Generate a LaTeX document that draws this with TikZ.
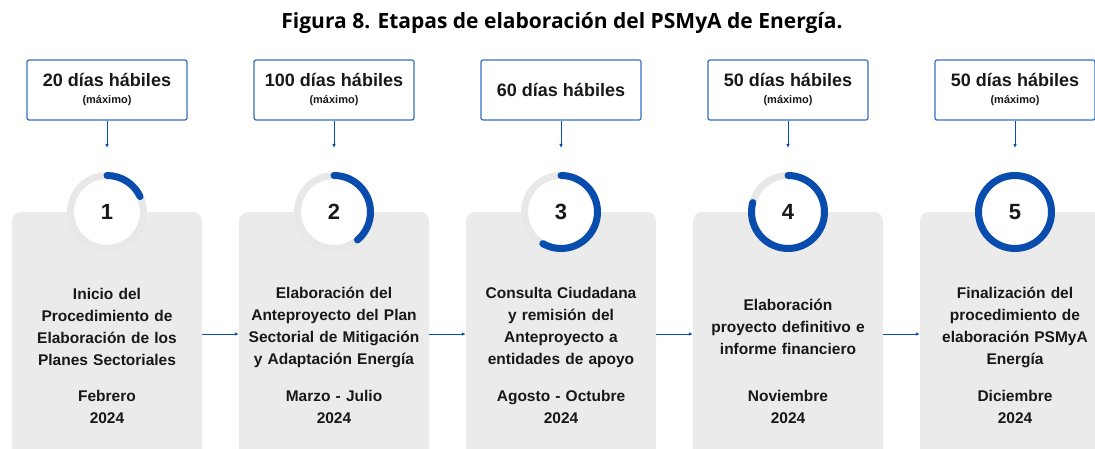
\documentclass[tikz,border=0pt]{standalone}
\usepackage{fontspec}
\setmainfont{Liberation Sans}
\newfontfamily\titlefont{Open Sans}
\usetikzlibrary{arrows.meta}
\definecolor{azul}{RGB}{8,76,174}
\definecolor{marco}{RGB}{52,110,196}
\definecolor{fondo}{RGB}{235,235,235}
\definecolor{anillo}{RGB}{232,232,232}
\definecolor{tinta}{RGB}{24,24,24}
\tikzset{
 plazo/.style={draw=marco,line width=1.2pt,rounded corners=2pt,minimum width=160pt,minimum height=60pt,align=center,text=tinta,inner sep=0pt,font=\fontsize{18}{19}\selectfont\bfseries},
 plazomax/.style={plazo,execute at begin node=\rule{0pt}{19pt}},
 tarjeta/.style={fill=fondo,rounded corners=9pt,minimum width=190pt,minimum height=268pt,inner sep=0pt},
 etapa/.style={circle,fill=white,minimum size=66pt,inner sep=0pt,text=tinta,font=\fontsize{22}{22}\selectfont\bfseries},
 texto/.style={align=center,text width=190pt,inner sep=0pt,text=tinta,font=\fontsize{15.5}{22}\selectfont\bfseries},
 flecha/.style={-{Latex[length=4pt,width=3.5pt]},azul,line width=0.8pt},
}
\newcommand{\maximo}{\\[-2pt]{\fontsize{11}{11}\selectfont (máximo)}}

\begin{document}
\begin{tikzpicture}[x=1pt,y=1pt]
 \useasboundingbox (0,0) rectangle (1095,448);
 \clip (0,0) rectangle (1095,448);
 \node[text=black,font=\titlefont\bfseries\fontsize{21}{21}\selectfont] (titulo) at (562,425) {Figura 8. Etapas de elaboración del PSMyA de Energía.};
 % plazos
 \node[plazomax] (d1) at (107,358) {20 días hábiles\maximo};
 \node[plazomax] (d2) at (334,358) {100 días hábiles\maximo};
 \node[plazo] (d3) at (561,358) {60 días hábiles};
 \node[plazomax] (d4) at (788,358) {50 días hábiles\maximo};
 \node[plazomax] (d5) at (1015,358) {50 días hábiles\maximo};
 \foreach \i/\x in {1/107,2/334,3/561,4/788,5/1015} {
  \coordinate (t\i) at (\x,300);
  \draw[flecha] (d\i.south) -- (t\i);
  \node[tarjeta] (k\i) at (\x,102) {};
  \node[etapa] (c\i) at (\x,236) {\i};
 }
 % avance de cada etapa
 \foreach \i/\a in {1/25,2/-50,3/-120,4/-195,5/-270} {
  \draw[anillo,line width=7pt] (c\i) circle (36.5);
  \draw[azul,line width=7pt,line cap=round] ([shift={(90:36.5)}]c\i.center) arc (90:\a:36.5);
 }
 % textos
 \node[texto] (n1) at (107,121) {Inicio del\\Procedimiento de\\Elaboración de los\\Planes Sectoriales};
 \node[texto] (n2) at (334,121) {Elaboración del\\Anteproyecto del Plan\\Sectorial de Mitigación\\y Adaptación Energía};
 \node[texto] (n3) at (561,121) {Consulta Ciudadana\\y remisión del\\Anteproyecto a\\entidades de apoyo};
 \node[texto] (n4) at (788,121) {Elaboración\\proyecto definitivo e\\informe financiero};
 \node[texto] (n5) at (1015,121) {Finalización del\\procedimiento de\\elaboración PSMyA\\Energía};
 %
 \node[texto] (f1) at (107,41) {Febrero\\2024};
 \node[texto] (f2) at (334,41) {Marzo - Julio\\2024};
 \node[texto] (f3) at (561,41) {Agosto - Octubre\\2024};
 \node[texto] (f4) at (788,41) {Noviembre\\2024};
 \node[texto] (f5) at (1015,41) {Diciembre\\2024};
 % secuencia
 \foreach \i/\j in {1/2,2/3,3/4,4/5}
  \draw[flecha] ([yshift=12pt]k\i.east) -- ([yshift=12pt]k\j.west);
\end{tikzpicture}
\end{document}
